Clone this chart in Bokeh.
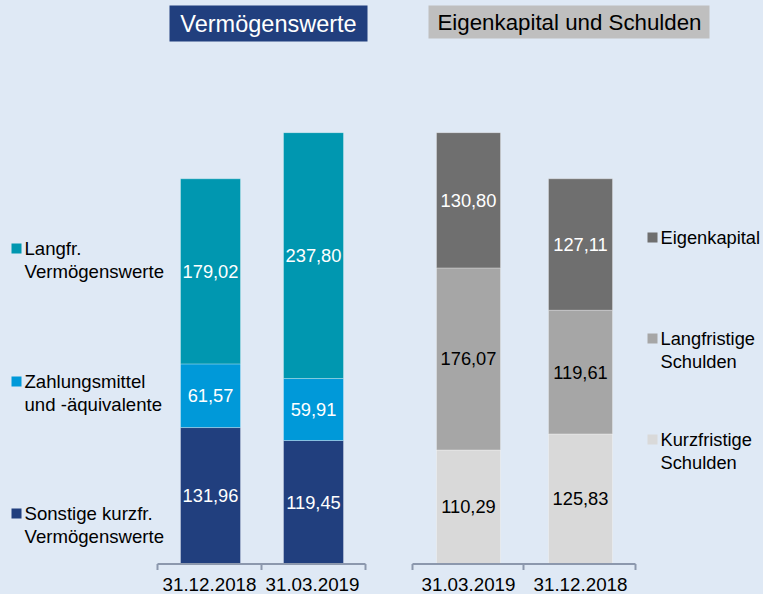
from bokeh.plotting import figure
from bokeh.models import Range1d, ColumnDataSource
from bokeh.core.properties import value
from bokeh.embed import file_html
from bokeh.resources import INLINE

# ---- data ----
asset_dates = ["31.12.2018", "31.03.2019"]
asset_series = ["Sonstige kurzfr. Vermögenswerte", "Zahlungsmittel und -äquivalente", "Langfr. Vermögenswerte"]
sonstige = [131.96, 119.45]
zahlung = [61.57, 59.91]
langfr = [179.02, 237.80]

liab_dates = ["31.03.2019", "31.12.2018"]
liab_series = ["Kurzfristige Schulden", "Langfristige Schulden", "Eigenkapital"]
kurz = [110.29, 125.83]
langs = [176.07, 119.61]
eigen = [130.80, 127.11]

title_left = "Vermögenswerte"
title_right = "Eigenkapital und Schulden"

# ---- styles / layout ----
BG = "#DFE9F5"
FONT = value("Liberation Sans")
asset_colors = ["#213F7E", "#0099D9", "#0097B0"]
asset_text = ["white", "white", "white"]
liab_colors = ["#D9D9D9", "#A6A6A6", "#6F6F6F"]
liab_text = ["black", "black", "white"]

W, H = 763, 594
BASE = 563.5   # screen y of baseline
K = 1.034      # px per unit


def ys(screen_y):
    return (BASE - screen_y) / K


p = figure(width=W, height=H, x_range=Range1d(0, W), y_range=Range1d(ys(H), ys(0)),
           output_backend="svg", toolbar_location=None, x_axis_type=None, y_axis_type=None,
           min_border=0, background_fill_color=BG, border_fill_color=BG, outline_line_color=None)


def stacked(centers, width, series_vals, colors, tcolors):
    bottoms = [0.0] * len(centers)
    for vals, col, tc in zip(series_vals, colors, tcolors):
        tops = [b + v for b, v in zip(bottoms, vals)]
        src = ColumnDataSource(dict(x=centers, bottom=bottoms, top=tops,
                                    mid=[(b + t) / 2 for b, t in zip(bottoms, tops)],
                                    lab=[f"{v:.2f}".replace(".", ",") for v in vals]))
        p.vbar(x="x", width=width, bottom="bottom", top="top", source=src,
               fill_color=col, line_color="white", line_alpha=0.3, line_width=1)
        p.text(x="x", y="mid", text="lab", source=src, text_align="center", text_baseline="middle",
               text_font=FONT, text_font_size="18.3px", text_color=tc)
        bottoms = tops


stacked([210, 313], 60, [sonstige, zahlung, langfr], asset_colors, asset_text)
stacked([468, 580], 64, [kurz, langs, eigen], liab_colors, liab_text)

# axis lines + ticks
AX = "#8C98AD"
for (x0, x1, xm) in [(157, 365, 261), (412, 635, 523)]:
    p.segment(x0=[x0], y0=[0], x1=[x1], y1=[0], line_color=AX, line_width=2)
    p.segment(x0=[x0, xm, x1], y0=[0, 0, 0], x1=[x0, xm, x1], y1=[ys(BASE + 6)] * 3,
              line_color=AX, line_width=2)

p.text(x=[209, 312, 468, 580], y=[ys(584)] * 4, text=asset_dates + liab_dates,
       text_align="center", text_baseline="middle", text_font=FONT, text_font_size="18.8px",
       text_color="black")

# titles
p.quad(left=[169], right=[367], top=[ys(5)], bottom=[ys(41)], fill_color="#213F7E", line_color=None)
p.text(x=[268], y=[ys(23)], text=[title_left], text_align="center", text_baseline="middle",
       text_font=FONT, text_font_size="23.5px", text_color="white")
p.quad(left=[428], right=[709], top=[ys(5)], bottom=[ys(38)], fill_color="#BFBFBF", line_color=None)
p.text(x=[569], y=[ys(22)], text=[title_right], text_align="center", text_baseline="middle",
       text_font=FONT, text_font_size="22.3px", text_color="black")

# legends
left_leg = [(asset_series[2], ["Langfr.", "Vermögenswerte"], 248),
            (asset_series[1], ["Zahlungsmittel", "und -äquivalente"], 381),
            (asset_series[0], ["Sonstige kurzfr.", "Vermögenswerte"], 513)]
for (name, lines, yc), col in zip(left_leg, [asset_colors[2], asset_colors[1], asset_colors[0]]):
    p.scatter(x=[16], y=[ys(yc)], marker="square", size=10, fill_color=col, line_color=None)
    p.text(x=[24] * len(lines), y=[ys(yc + 22.5 * i) for i in range(len(lines))], text=lines,
           text_align="left", text_baseline="middle", text_font=FONT, text_font_size="18.6px",
           text_color="black")

right_leg = [(liab_series[2], ["Eigenkapital"], 237),
             (liab_series[1], ["Langfristige", "Schulden"], 338),
             (liab_series[0], ["Kurzfristige", "Schulden"], 439)]
for (name, lines, yc), col in zip(right_leg, [liab_colors[2], liab_colors[1], liab_colors[0]]):
    p.scatter(x=[652], y=[ys(yc)], marker="square", size=10, fill_color=col, line_color=None)
    p.text(x=[660] * len(lines), y=[ys(yc + 22.5 * i) for i in range(len(lines))], text=lines,
           text_align="left", text_baseline="middle", text_font=FONT, text_font_size="18.3px",
           text_color="black")

html = file_html(p, INLINE)
html = html.replace("</head>", "<style>html,body{background:%s;}</style></head>" % BG, 1)
open("out.html", "w").write(html)
